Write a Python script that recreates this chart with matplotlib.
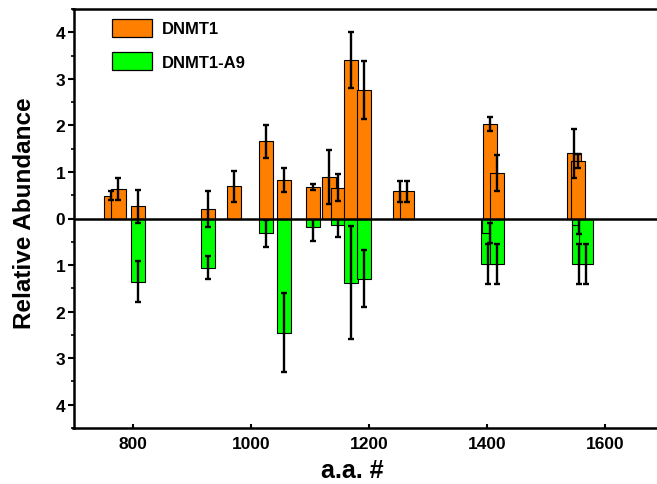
import matplotlib
matplotlib.use("Agg")
import matplotlib.pyplot as plt
from matplotlib.patches import Patch
from matplotlib.ticker import FuncFormatter, MultipleLocator

plt.rcParams["font.family"] = ["Liberation Sans", "DejaVu Sans"]
plt.rcParams["font.weight"] = "bold"

# DNMT1 peptide positions (a.a.), relative abundance and error
dnmt1_pos = [763, 776, 809, 928, 972, 1026, 1056, 1105, 1133, 1148, 1170, 1191,
             1253, 1264, 1405, 1416, 1547, 1554]
dnmt1_val = [0.49, 0.63, 0.26, 0.21, 0.69, 1.66, 0.82, 0.68, 0.90, 0.66, 3.41, 2.76,
             0.58, 0.58, 2.02, 0.98, 1.40, 1.23]
dnmt1_err = [0.10, 0.23, 0.36, 0.39, 0.33, 0.35, 0.26, 0.07, 0.58, 0.29, 0.60, 0.62,
             0.22, 0.22, 0.15, 0.39, 0.53, 0.15]

# DNMT1-A9 (plotted downward)
a9_pos = [809, 928, 1026, 1056, 1105, 1148, 1170, 1191,
          1402, 1404, 1416, 1555, 1556, 1567]
a9_val = [-1.36, -1.06, -0.32, -2.45, -0.18, -0.14, -1.38, -1.29,
          -0.97, -0.31, -0.97, -0.97, -0.13, -0.97]
a9_err = [0.44, 0.25, 0.29, 0.85, 0.30, 0.25, 1.21, 0.61,
          0.43, 0.21, 0.43, 0.43, 0.21, 0.43]

series_names = ["DNMT1", "DNMT1-A9"]
series_colors = ["#FF8000", "#00FF00"]
x_ticks = [800, 1000, 1200, 1400, 1600]
y_ticks = [-4, -3, -2, -1, 0, 1, 2, 3, 4]

bar_width = 24

fig = plt.figure(figsize=(6.57, 4.85), dpi=100)
ax = fig.add_axes([73.5 / 657, 56 / 485, 591 / 657, 419 / 485])

err_kw = dict(ecolor="black", elinewidth=1.7, capsize=2, capthick=1.7)

ax.bar(a9_pos, a9_val, width=bar_width, color=series_colors[1],
       edgecolor="black", linewidth=0.8, yerr=a9_err, error_kw=err_kw, zorder=2)
ax.bar(dnmt1_pos, dnmt1_val, width=bar_width, color=series_colors[0],
       edgecolor="black", linewidth=0.8, yerr=dnmt1_err, error_kw=err_kw, zorder=3)

ax.axhline(0, color="black", linewidth=1.8, zorder=6)

ax.set_xlim(700, 1700)
ax.set_ylim(-4.5, 4.5)
ax.set_xticks(x_ticks)
ax.set_yticks(y_ticks)
ax.yaxis.set_minor_locator(MultipleLocator(0.5))
ax.yaxis.set_major_formatter(FuncFormatter(lambda v, p: f"{abs(v):.0f}"))

for side in ["left", "bottom", "top"]:
    ax.spines[side].set_linewidth(1.8)
ax.spines["right"].set_visible(False)

ax.tick_params(axis="y", which="major", direction="out", length=4, width=1.5,
               pad=2, labelsize=12.5)
ax.tick_params(axis="y", which="minor", direction="out", length=2.5, width=1.2)
ax.tick_params(axis="x", which="major", direction="in", length=3, width=1.5,
               pad=6, labelsize=12.5)

ax.set_xlabel("a.a. #", fontsize=18, fontweight="bold")
ax.set_ylabel("Relative Abundance", fontsize=17.5, fontweight="bold")
ax.xaxis.set_label_coords((352 - 73.5) / 591, -0.072)
ax.yaxis.set_label_coords(-0.064, 0.515)

handles = [Patch(facecolor=c, edgecolor="black", linewidth=0.9) for c in series_colors]
ax.legend(handles, series_names, loc="upper left",
          bbox_to_anchor=((112.3 - 73.5) / 591, 1 - (20 - 10) / 419),
          frameon=False, borderpad=0, borderaxespad=0,
          handlelength=2.4, handleheight=1.25, handletextpad=0.6,
          labelspacing=0.95, prop={"size": 12, "weight": "bold"})

fig.savefig("out.png", dpi=100)
